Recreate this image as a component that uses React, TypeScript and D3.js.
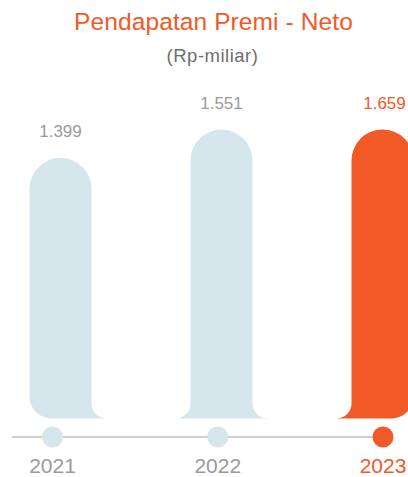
import React from "react";
import * as d3 from "d3";

const years = ["2021", "2022", "2023"];
const values = [1399, 1551, 1659];
const valueLabels = ["1.399", "1.551", "1.659"];
const highlight = [false, false, true];

const W = 408;
const H = 477;
const ORANGE = "#f15a26";
const LIGHT = "#d6e6ed";
const GRAY = "#9a9a9a";
const FONT = "'Liberation Sans', Arial, sans-serif";

function barPath(L: number, R: number, T: number, B: number, leftFlare: boolean, rightFlare: boolean) {
  const r = (R - L) / 2;
  const f = 15;
  const c = 22;
  let p = `M${L},${T + r} A${r},${r} 0 0 1 ${R},${T + r}`;
  if (rightFlare) {
    p += ` L${R},${B - f} A${f},${f} 0 0 0 ${R + f},${B}`;
  } else {
    p += ` L${R},${B - c} A${c},${c} 0 0 1 ${R - c},${B}`;
  }
  if (leftFlare) {
    p += ` L${L - f},${B} A${f},${f} 0 0 0 ${L},${B - f}`;
  } else {
    p += ` L${L + c},${B} A${c},${c} 0 0 1 ${L},${B - c}`;
  }
  return p + " Z";
}

export default function App() {
  const baseY = 418.5;
  const x = d3.scalePoint<string>().domain(years).range([60.5, 382.5]);
  const xAxis = d3.scalePoint<string>().domain(years).range([52.5, 383]);
  const y = d3.scaleLinear().domain([0, 1551]).range([baseY, 129.5]).clamp(true);
  const bw = 62;
  const axisY = 437;

  return (
    <svg width={W} height={H} style={{ position: "absolute", left: 0, top: 0 }} fontFamily={FONT}>
      <rect width={W} height={H} fill="#fff" />
      <text x={213.5} y={30} textAnchor="middle" fill={ORANGE} fontSize={24.5} letterSpacing={0.1}>
        Pendapatan Premi - Neto
      </text>
      <text x={212.5} y={62} textAnchor="middle" fill="#6e6e6e" fontSize={18.5} letterSpacing={0.5}>
        (Rp-miliar)
      </text>
      {years.map((yr, i) => {
        const cx = x(yr)!;
        const L = cx - bw / 2;
        const R = cx + bw / 2;
        const T = y(values[i]);
        return (
          <g key={yr}>
            <path
              d={barPath(L, R, T, baseY, i > 0, i < years.length - 1)}
              fill={highlight[i] ? ORANGE : LIGHT}
            />
            <text
              x={cx + (highlight[i] ? 2 : 0)}
              y={T - 21}
              textAnchor="middle"
              fill={highlight[i] ? ORANGE : GRAY}
              fontSize={17}
            >
              {valueLabels[i]}
            </text>
          </g>
        );
      })}
      <line x1={12} x2={xAxis(years[years.length - 1])!} y1={axisY} y2={axisY} stroke="#cfcfcf" strokeWidth={2} />
      {years.map((yr, i) => (
        <g key={"a" + yr}>
          <circle cx={xAxis(yr)!} cy={axisY} r={10.5} fill={highlight[i] ? ORANGE : LIGHT} />
          <text
            x={xAxis(yr)!}
            y={473}
            textAnchor="middle"
            fill={highlight[i] ? ORANGE : GRAY}
            fontSize={21}
          >
            {yr}
          </text>
        </g>
      ))}
    </svg>
  );
}
